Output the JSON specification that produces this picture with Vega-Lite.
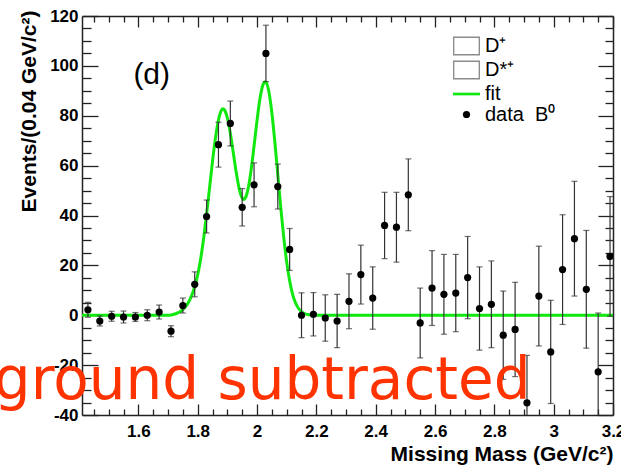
{
  "$schema": "https://vega.github.io/schema/vega-lite/v6.json",
  "width": 531,
  "height": 399,
  "autosize": {"type": "none"},
  "padding": {"left": 82, "top": 16, "right": 8, "bottom": 51},
  "background": "white",
  "config": {
    "view": {"stroke": null},
    "axis": {
      "domainColor": "#222", "domainWidth": 1.5, "tickColor": "#222", "tickWidth": 1.3, "grid": false,
      "labelFont": "Liberation Sans", "labelFontWeight": "bold", "labelFontSize": 17, "labelColor": "black",
      "titleFont": "Liberation Sans", "titleFontWeight": "bold", "titleFontSize": 21, "titleColor": "black",
      "labelFlush": false, "labelOverlap": false
    }
  },
  "datasets": {
    "fit": [
      {"x": 1.41, "y": 0}, {"x": 1.70, "y": 0}, {"x": 1.71, "y": 0.1}, {"x": 1.72, "y": 0.4}, {"x": 1.73, "y": 0.8},
      {"x": 1.74, "y": 1.4}, {"x": 1.75, "y": 2.3}, {"x": 1.76, "y": 3.6}, {"x": 1.77, "y": 5.4}, {"x": 1.78, "y": 8.0},
      {"x": 1.79, "y": 11.5}, {"x": 1.80, "y": 16.2}, {"x": 1.81, "y": 22.6}, {"x": 1.82, "y": 30.8}, {"x": 1.83, "y": 40.5},
      {"x": 1.84, "y": 51.1}, {"x": 1.85, "y": 61.8}, {"x": 1.86, "y": 71.2}, {"x": 1.87, "y": 78.3}, {"x": 1.88, "y": 82.2},
      {"x": 1.885, "y": 82.8}, {"x": 1.89, "y": 82.4}, {"x": 1.90, "y": 79.1}, {"x": 1.91, "y": 73.0}, {"x": 1.92, "y": 65.2},
      {"x": 1.93, "y": 57.2}, {"x": 1.94, "y": 50.7}, {"x": 1.95, "y": 47.0}, {"x": 1.955, "y": 46.4}, {"x": 1.96, "y": 46.9},
      {"x": 1.97, "y": 50.8}, {"x": 1.98, "y": 58.2}, {"x": 1.99, "y": 67.9}, {"x": 2.00, "y": 78.1}, {"x": 2.01, "y": 86.9},
      {"x": 2.02, "y": 92.4}, {"x": 2.028, "y": 93.6}, {"x": 2.03, "y": 93.5}, {"x": 2.04, "y": 89.6}, {"x": 2.05, "y": 81.2},
      {"x": 2.06, "y": 69.6}, {"x": 2.07, "y": 56.4}, {"x": 2.08, "y": 43.2}, {"x": 2.09, "y": 31.3}, {"x": 2.10, "y": 21.4},
      {"x": 2.11, "y": 13.8}, {"x": 2.12, "y": 8.4}, {"x": 2.13, "y": 4.9}, {"x": 2.14, "y": 2.7}, {"x": 2.15, "y": 1.4},
      {"x": 2.16, "y": 0.7}, {"x": 2.17, "y": 0.3}, {"x": 2.18, "y": 0.1}, {"x": 2.20, "y": 0}, {"x": 3.20, "y": 0}
    ],
    "pts": [
      {"x": 1.43, "y": 2.2, "e": 3}, {"x": 1.47, "y": -2.3, "e": 2}, {"x": 1.51, "y": -0.4, "e": 2},
      {"x": 1.55, "y": -0.7, "e": 2.4}, {"x": 1.59, "y": -0.7, "e": 1.8}, {"x": 1.63, "y": 0, "e": 2.2},
      {"x": 1.67, "y": 1.3, "e": 2.8}, {"x": 1.71, "y": -6.4, "e": 2.2}, {"x": 1.75, "y": 3.9, "e": 3},
      {"x": 1.79, "y": 12.4, "e": 5}, {"x": 1.83, "y": 39.6, "e": 6.6}, {"x": 1.87, "y": 68.4, "e": 9},
      {"x": 1.91, "y": 76.9, "e": 9}, {"x": 1.95, "y": 43.3, "e": 7.5}, {"x": 1.99, "y": 52.3, "e": 8.8},
      {"x": 2.03, "y": 105, "e": 11.3}, {"x": 2.07, "y": 51.6, "e": 9}, {"x": 2.11, "y": 26.4, "e": 8.4},
      {"x": 2.15, "y": 0, "e": 9}, {"x": 2.19, "y": 0.4, "e": 8.7}, {"x": 2.23, "y": -1.1, "e": 9.3},
      {"x": 2.27, "y": -2.3, "e": 10.7}, {"x": 2.31, "y": 5.6, "e": 11}, {"x": 2.35, "y": 16.3, "e": 11.8},
      {"x": 2.39, "y": 6.9, "e": 12.5}, {"x": 2.43, "y": 36, "e": 13.3}, {"x": 2.47, "y": 35.3, "e": 14},
      {"x": 2.51, "y": 48.3, "e": 14.4}, {"x": 2.55, "y": -3.1, "e": 14}, {"x": 2.59, "y": 10.9, "e": 15},
      {"x": 2.63, "y": 8.4, "e": 16}, {"x": 2.67, "y": 8.9, "e": 15.5}, {"x": 2.71, "y": 15.1, "e": 16.5},
      {"x": 2.75, "y": 2.7, "e": 16.7}, {"x": 2.79, "y": 4.4, "e": 17.4}, {"x": 2.83, "y": -8, "e": 17.7},
      {"x": 2.87, "y": -5.7, "e": 18.9}, {"x": 2.91, "y": -35.1, "e": 19}, {"x": 2.95, "y": 7.7, "e": 20},
      {"x": 2.99, "y": -14.7, "e": 20.7}, {"x": 3.03, "y": 18.3, "e": 22}, {"x": 3.07, "y": 30.7, "e": 23},
      {"x": 3.11, "y": 10.4, "e": 23.6}, {"x": 3.15, "y": -22.7, "e": 23.6}, {"x": 3.19, "y": 23.6, "e": 24}
    ]
  },
  "resolve": {"axis": {"x": "independent", "y": "independent"}},
  "layer": [
    {
      "data": {"name": "fit"},
      "mark": {"type": "line", "color": "#10e810", "strokeWidth": 3, "interpolate": "monotone", "clip": true},
      "encoding": {
        "x": {
          "field": "x", "type": "quantitative",
          "scale": {"domain": [1.41, 3.2], "nice": false, "zero": false},
          "axis": {
            "orient": "bottom",
            "values": [1.45,1.5,1.55,1.6,1.65,1.7,1.75,1.8,1.85,1.9,1.95,2,2.05,2.1,2.15,2.2,2.25,2.3,2.35,2.4,2.45,2.5,2.55,2.6,2.65,2.7,2.75,2.8,2.85,2.9,2.95,3,3.05,3.1,3.15,3.2],
            "tickSize": {"condition": {"test": "indexof([1.6,1.8,2,2.2,2.4,2.6,2.8,3,3.2], datum.value) >= 0", "value": -11}, "value": -6},
            "labelExpr": "indexof([1.6,1.8,2,2.2,2.4,2.6,2.8,3,3.2], datum.value) >= 0 ? '' + datum.value : ''",
            "labelPadding": 19,
            "title": "Missing Mass (GeV/c²)",
            "titleAlign": "right", "titleAnchor": "end", "titleX": 531, "titleY": 45, "titleBaseline": "alphabetic"
          }
        },
        "y": {
          "field": "y", "type": "quantitative",
          "scale": {"domain": [-40, 120], "nice": false, "zero": false},
          "axis": {
            "orient": "left",
            "values": [-40,-35,-30,-25,-20,-15,-10,-5,0,5,10,15,20,25,30,35,40,45,50,55,60,65,70,75,80,85,90,95,100,105,110,115,120],
            "tickSize": {"condition": {"test": "datum.value % 20 === 0", "value": -16}, "value": -9},
            "labelExpr": "datum.value % 20 === 0 ? (datum.value < 0 ? '-' + abs(datum.value) : '' + datum.value) : ''",
            "labelPadding": 20,
            "title": "Events/(0.04 GeV/c²)",
            "titleAngle": -90, "titleAlign": "right", "titleBaseline": "middle", "titleX": -53, "titleY": -6
          }
        }
      }
    },
    {
      "data": {"name": "pts"},
      "mark": {"type": "errorbar", "ticks": {"size": 6}, "color": "#333", "thickness": 1.2, "clip": true},
      "encoding": {
        "x": {"field": "x", "type": "quantitative", "scale": {"domain": [1.41, 3.2], "nice": false, "zero": false}, "axis": null},
        "y": {"field": "y", "type": "quantitative", "scale": {"domain": [-40, 120], "nice": false, "zero": false}, "axis": null},
        "yError": {"field": "e"}
      }
    },
    {
      "data": {"name": "pts"},
      "mark": {"type": "errorbar", "ticks": {"size": 6}, "color": "#333", "thickness": 1.2, "clip": true},
      "encoding": {
        "x": {"field": "x", "type": "quantitative", "scale": {"domain": [1.41, 3.2], "nice": false, "zero": false}, "axis": null},
        "xError": {"value": 0.02},
        "y": {"field": "y", "type": "quantitative", "scale": {"domain": [-40, 120], "nice": false, "zero": false}, "axis": null}
      }
    },
    {
      "data": {"name": "pts"},
      "mark": {"type": "point", "filled": true, "opacity": 1, "clip": true},
      "encoding": {
        "x": {
          "field": "x", "type": "quantitative",
          "scale": {"domain": [1.41, 3.2], "nice": false, "zero": false},
          "axis": {
            "orient": "top",
            "values": [1.45,1.5,1.55,1.6,1.65,1.7,1.75,1.8,1.85,1.9,1.95,2,2.05,2.1,2.15,2.2,2.25,2.3,2.35,2.4,2.45,2.5,2.55,2.6,2.65,2.7,2.75,2.8,2.85,2.9,2.95,3,3.05,3.1,3.15,3.2],
            "tickSize": {"condition": {"test": "indexof([1.6,1.8,2,2.2,2.4,2.6,2.8,3,3.2], datum.value) >= 0", "value": -11}, "value": -6},
            "labels": false, "title": null
          }
        },
        "y": {
          "field": "y", "type": "quantitative",
          "scale": {"domain": [-40, 120], "nice": false, "zero": false},
          "axis": {
            "orient": "right",
            "values": [-40,-35,-30,-25,-20,-15,-10,-5,0,5,10,15,20,25,30,35,40,45,50,55,60,65,70,75,80,85,90,95,100,105,110,115,120],
            "tickSize": {"condition": {"test": "datum.value % 20 === 0", "value": -15}, "value": -8},
            "labels": false, "title": null
          }
        },
        "color": {
          "datum": "data", "type": "nominal",
          "scale": {"domain": ["Dp", "Dsp", "fit", "data"], "range": ["#8c8c8c", "#8c8c8c", "#10e810", "black"]},
          "legend": {
            "orient": "none", "legendX": 371, "legendY": 16.5, "title": null,
            "rowPadding": 0, "labelOffset": 5, "symbolStrokeWidth": 0,
            "labelFont": "Liberation Sans", "labelFontSize": 20, "labelColor": "black",
            "labelExpr": "datum.value === 'Dp' ? 'D⁺' : datum.value === 'Dsp' ? 'D*⁺' : datum.value === 'fit' ? 'fit' : '\u00a0data\u00a0\u00a0B⁰'"
          }
        },
        "shape": {
          "datum": "data", "type": "nominal",
          "scale": {"domain": ["Dp", "Dsp", "fit", "data"], "range": ["M-1,-0.7H1V0.7H-1Z M-0.9,-0.6V0.6H0.9V-0.6Z", "M-1,-0.7H1V0.7H-1Z M-0.9,-0.6V0.6H0.9V-0.6Z", "M-1,-0.1H1V0.1H-1Z", "circle"]}
        },
        "size": {
          "datum": "data", "type": "nominal",
          "scale": {"type": "ordinal", "domain": ["Dp", "Dsp", "fit", "data"], "range": [729, 729, 729, 52]}
        }
      }
    },
    {
      "data": {"values": [{}]},
      "mark": {"type": "text", "text": "(d)", "font": "Liberation Sans", "fontSize": 30, "align": "center", "baseline": "alphabetic", "color": "black"},
      "encoding": {
        "x": {"datum": 1.645, "type": "quantitative", "scale": {"domain": [1.41, 3.2], "nice": false, "zero": false}, "axis": null},
        "y": {"datum": 92.8, "type": "quantitative", "scale": {"domain": [-40, 120], "nice": false, "zero": false}, "axis": null}
      }
    },
    {
      "data": {"values": [{}]},
      "mark": {"type": "text", "text": "ground subtracted", "font": "DejaVu Sans", "fontSize": 58, "align": "right", "baseline": "alphabetic", "color": "#ff3300"},
      "encoding": {
        "x": {"datum": 2.922, "type": "quantitative", "scale": {"domain": [1.41, 3.2], "nice": false, "zero": false}, "axis": null},
        "y": {"datum": -33.6, "type": "quantitative", "scale": {"domain": [-40, 120], "nice": false, "zero": false}, "axis": null}
      }
    }
  ]
}
